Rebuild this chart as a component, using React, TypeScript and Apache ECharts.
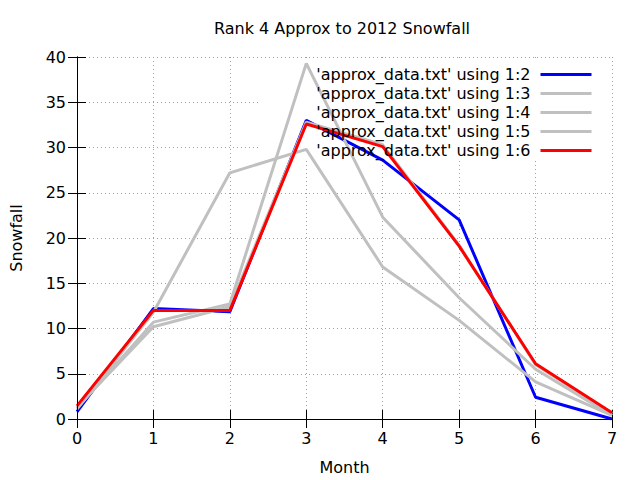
import React, { useEffect, useRef } from "react";
import * as echarts from "echarts";

const months = [0, 1, 2, 3, 4, 5, 6, 7];
const seriesNames = [
  "'approx_data.txt' using 1:2",
  "'approx_data.txt' using 1:3",
  "'approx_data.txt' using 1:4",
  "'approx_data.txt' using 1:5",
  "'approx_data.txt' using 1:6",
];
const col2 = [0.8, 12.2, 11.85, 33.0, 28.6, 22.0, 2.4, 0.0];
const col3 = [1.2, 10.7, 12.7, 39.3, 22.3, 13.4, 5.5, 0.4];
const col4 = [1.1, 11.8, 27.2, 29.8, 16.8, 10.9, 4.1, 0.4];
const col5 = [1.3, 10.2, 12.4, 32.8, 30.3, 19.2, 6.0, 0.6];
const col6 = [1.45, 12.0, 12.0, 32.6, 30.1, 19.1, 6.1, 0.7];
const columns = [col2, col3, col4, col5, col6];
const colors = ["#0000ff", "#c0c0c0", "#c0c0c0", "#c0c0c0", "#ff0000"];

const FONT = "DejaVu Sans";

export default function App() {
  const ref = useRef<HTMLDivElement>(null);
  useEffect(() => {
    document.body.style.margin = "0";
    const chart = echarts.init(ref.current!, null, { renderer: "svg" });
    const tickCommon = { show: true, inside: true, length: 9, lineStyle: { color: "#000", width: 1 } };
    const axisLineCommon = { show: true, lineStyle: { color: "#000", width: 1 } };
    chart.setOption({
      animation: false,
      backgroundColor: "#ffffff",
      textStyle: { fontFamily: FONT },
      grid: { left: 74, right: 28, top: 57, bottom: 61, containLabel: false },
      graphic: [
        {
          type: "rect",
          z: 1,
          silent: true,
          shape: { x: 260, y: 58, width: 351, height: 100 },
          style: { fill: "#ffffff" },
        },
        {
          type: "text",
          x: 342,
          y: 28,
          style: {
            text: "Rank 4 Approx to 2012 Snowfall",
            fontFamily: FONT,
            fontSize: 16,
            fill: "#000",
            align: "center",
            verticalAlign: "middle",
          },
        },
      ],
      legend: {
        orient: "vertical",
        right: 42,
        top: 60,
        align: "right",
        itemWidth: 51,
        itemHeight: 14,
        itemGap: 0,
        data: seriesNames,
        itemStyle: { opacity: 0 },
        lineStyle: { width: 3 },
        textStyle: {
          fontFamily: FONT,
          fontSize: 16,
          color: "#000",
          lineHeight: 19,
          padding: [0, 5, 0, 0],
        },
        selectedMode: false,
      },
      xAxis: [
        {
          type: "value",
          min: 0,
          max: 7,
          interval: 1,
          name: "Month",
          nameLocation: "middle",
          nameGap: 40,
          nameTextStyle: { fontFamily: FONT, fontSize: 16, color: "#000" },
          axisLine: axisLineCommon,
          axisTick: tickCommon,
          axisLabel: { fontFamily: FONT, fontSize: 16, color: "#000", margin: 11 },
          splitLine: { show: true, lineStyle: { color: "#a0a0a0", width: 1, type: [1, 3] } },
        },
        {
          type: "value",
          position: "top",
          min: 0,
          max: 7,
          interval: 1,
          z: 3,
          axisLine: axisLineCommon,
          axisTick: tickCommon,
          axisLabel: { show: false },
          splitLine: { show: false },
        },
      ],
      yAxis: [
        {
          type: "value",
          min: 0,
          max: 40,
          interval: 5,
          name: "Snowfall",
          nameLocation: "middle",
          nameGap: 53,
          nameTextStyle: { fontFamily: FONT, fontSize: 16, color: "#000" },
          axisLine: axisLineCommon,
          axisTick: tickCommon,
          axisLabel: { fontFamily: FONT, fontSize: 16, color: "#000", margin: 11 },
          splitLine: { show: true, lineStyle: { color: "#a0a0a0", width: 1, type: [1, 3] } },
        },
        {
          type: "value",
          position: "right",
          min: 0,
          max: 40,
          interval: 5,
          z: 3,
          axisLine: axisLineCommon,
          axisTick: tickCommon,
          axisLabel: { show: false },
          splitLine: { show: false },
        },
      ],
      series: columns.map((col, i) => ({
        type: "line",
        name: seriesNames[i],
        xAxisIndex: 0,
        yAxisIndex: 0,
        data: months.map((m, j) => [m, col[j]]),
        symbol: "none",
        showSymbol: false,
        z: 2 + i * 0.01,
        zlevel: 0,
        color: colors[i],
        lineStyle: { color: colors[i], width: 3 },
      })),
    });
    return () => chart.dispose();
  }, []);
  return (
    <div
      ref={ref}
      style={{ position: "fixed", left: 0, top: 0, width: 640, height: 480 }}
    />
  );
}
